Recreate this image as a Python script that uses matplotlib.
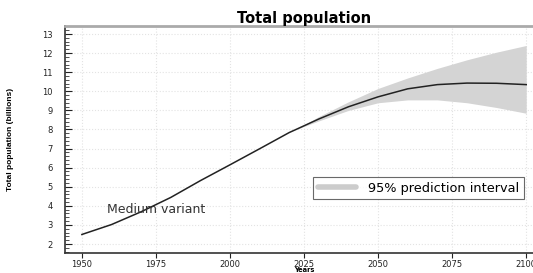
import matplotlib
matplotlib.use('Agg')
import matplotlib.pyplot as plt
from matplotlib.ticker import MultipleLocator
from matplotlib.lines import Line2D

# Medium variant (billions)
YEARS = [1950, 1960, 1970, 1980, 1990, 2000, 2010, 2020, 2022, 2030, 2040,
         2050, 2060, 2070, 2080, 2090, 2100]
MEDIUM = [2.50, 3.02, 3.69, 4.44, 5.32, 6.15, 6.99, 7.84, 7.98, 8.55, 9.19,
          9.71, 10.13, 10.35, 10.43, 10.42, 10.35]

# 95% prediction interval
PI_YEARS = [2022, 2030, 2040, 2050, 2060, 2070, 2080, 2090, 2100]
PI_LOW = [7.98, 8.45, 9.00, 9.40, 9.55, 9.55, 9.40, 9.15, 8.85]
PI_HIGH = [7.98, 8.68, 9.45, 10.15, 10.70, 11.20, 11.65, 12.05, 12.40]

XTICKS = [1950, 1975, 2000, 2025, 2050, 2075, 2100]

plt.rcParams.update({
    'font.family': ['DejaVu Sans'],
    'font.size': 7,
})

fig = plt.figure(figsize=(5.33, 2.73), dpi=100)
ax = fig.add_axes([65/533, 20/273, (544-65)/533, 227/273])

ax.fill_between(PI_YEARS, PI_LOW, PI_HIGH, color='#d4d4d4', lw=0)
ax.plot(YEARS, MEDIUM, color='#222222', lw=1.1)

ax.set_xlim(1944.3, 2106)
ax.set_ylim(1.53, 13.42)
ax.set_xticks(XTICKS)
ax.set_yticks(range(2, 14))
ax.yaxis.set_minor_locator(MultipleLocator(0.2))
ax.tick_params(axis='y', which='major', direction='in', length=5, pad=9, colors='#222222', labelsize=6)
ax.tick_params(axis='y', which='minor', direction='in', length=3, color='#333333')
ax.tick_params(axis='x', which='major', direction='out', length=3.5, pad=1.5, colors='#222222', labelsize=6)

ax.grid(True, which='major', color='#e3e3e3', ls=':', lw=0.8)
ax.set_axisbelow(True)

ax.spines['top'].set_color('#aaaaaa')
ax.spines['top'].set_linewidth(2)
ax.spines['right'].set_visible(False)
for s in ('left', 'bottom'):
    ax.spines[s].set_color('#333333')
    ax.spines[s].set_linewidth(1.2)

ax.text(1958.5, 3.8, 'Medium variant', fontsize=9, color='#333333', va='center')

ax.set_title('Total population', fontsize=10.5, fontweight='bold', pad=2.5)
ax.set_ylabel('Total population (billions)', fontsize=6, fontweight='bold',
              family=['Liberation Sans', 'DejaVu Sans'], labelpad=20)
fig.text(304/533, 0, 'Years', fontsize=4.8, fontweight='bold', ha='center', va='bottom')

handle = Line2D([], [], color='#cccccc', lw=4, solid_capstyle='round')
leg = ax.legend([handle], ['95% prediction interval'], loc='upper left',
                bbox_to_anchor=((313-65)/479, (253-177)/227), borderaxespad=0,
                fontsize=9.3, frameon=True, fancybox=False, edgecolor='#444444',
                borderpad=0.35, handlelength=3.0, handletextpad=0.9)
leg.get_frame().set_linewidth(0.8)

fig.savefig('out.png', dpi=100)
